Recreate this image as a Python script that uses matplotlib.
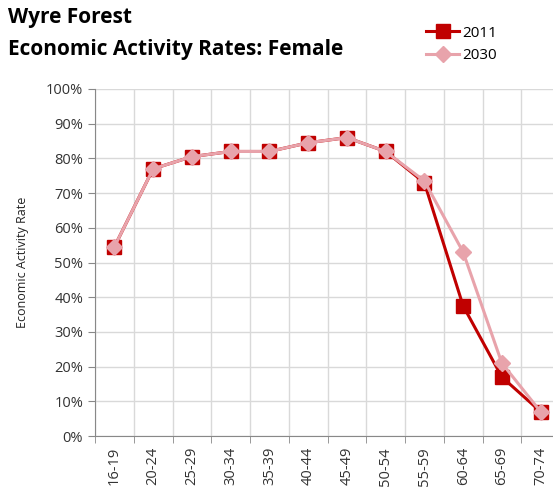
import numpy as np
import matplotlib.pyplot as plt

ages = ['16-19', '20-24', '25-29', '30-34', '35-39', '40-44', '45-49',
        '50-54', '55-59', '60-64', '65-69', '70-74']
rate_2011 = [54.5, 77.0, 80.5, 82.0, 82.0, 84.5, 86.0, 82.0, 73.0, 37.5, 17.0, 7.0]
rate_2030 = [54.5, 77.0, 80.5, 82.0, 82.0, 84.5, 86.0, 82.0, 73.5, 53.0, 21.0, 7.0]
yticks = [0, 10, 20, 30, 40, 50, 60, 70, 80, 90, 100]

plt.rcParams['font.family'] = ['Open Sans', 'DejaVu Sans']

fig = plt.figure(figsize=(5.53, 5.0), dpi=100)
ax = fig.add_axes([95/553, 64/500, 465/553, 347/500])

x = np.arange(len(ages))
ax.plot(x, rate_2011, color='#C00000', lw=2.2, marker='s', ms=10, label='2011', zorder=3)
ax.plot(x, rate_2030, color='#E8A3AB', lw=2.2, marker='D', ms=8.5, label='2030', zorder=4)

ax.set_xlim(-0.5, len(ages) - 0.5)
ax.set_ylim(0, 100)
ax.set_yticks(yticks)
ax.set_yticklabels([f'{v}%' for v in yticks], fontsize=10.5, color='#333333')
ax.set_xticks(x)
ax.set_xticklabels(ages, rotation=90, fontsize=10.5, color='#333333')
ax.set_xticks(np.arange(len(ages) + 1) - 0.5, minor=True)
ax.tick_params(axis='x', which='major', length=0, pad=8)
ax.tick_params(axis='x', which='minor', length=5, color='#888888', direction='out')
ax.tick_params(axis='y', length=5, color='#888888', direction='out')
ax.grid(True, which='minor', axis='x', color='#D9D9D9', lw=1)
ax.grid(True, which='major', axis='y', color='#D9D9D9', lw=1)
ax.set_axisbelow(True)
for s in ['top', 'right']:
    ax.spines[s].set_visible(False)
for s in ['left', 'bottom']:
    ax.spines[s].set_color('#888888')
ax.set_ylabel('Economic Activity Rate', fontsize=9, color='#222222', labelpad=12)

fig.text(8/553, 1 - 18/500, 'Wyre Forest', fontsize=15, fontweight='bold', va='center')
fig.text(8/553, 1 - 50/500, 'Economic Activity Rates: Female', fontsize=15,
         fontweight='bold', va='center')

leg = fig.legend(loc='upper left', bbox_to_anchor=(412/553, 1 - 12/500), frameon=False,
                 fontsize=11, handlelength=2.2, handletextpad=0.2, labelspacing=0.5)

fig.savefig('out.png', dpi=100)
